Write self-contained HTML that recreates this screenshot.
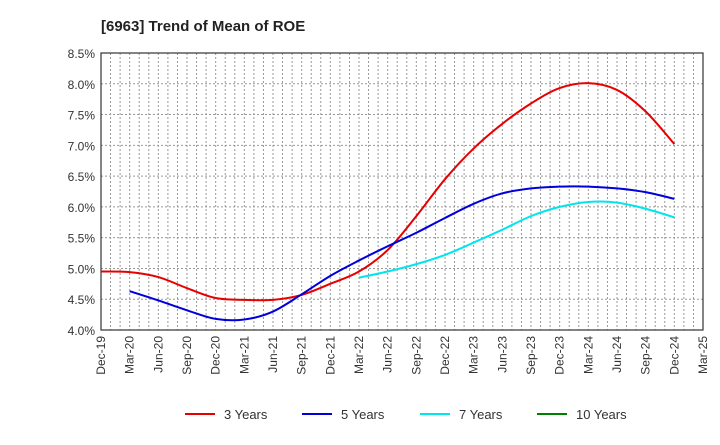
<!DOCTYPE html>
<html><head><meta charset="utf-8"><style>
body{margin:0;background:#fff;font-family:"Liberation Sans",Arial,sans-serif}
</style></head><body>
<svg id="c" width="720" height="440" xmlns="http://www.w3.org/2000/svg">
<text x="101" y="31" font-size="15" font-weight="bold" fill="#222">[6963]  Trend of Mean of ROE</text>
<g id="grid"></g><g id="axes"></g><g id="series"></g><g id="legend"></g>
</svg>
<script>
const xLabels=["Dec-19","Mar-20","Jun-20","Sep-20","Dec-20","Mar-21","Jun-21","Sep-21","Dec-21","Mar-22","Jun-22","Sep-22","Dec-22","Mar-23","Jun-23","Sep-23","Dec-23","Mar-24","Jun-24","Sep-24","Dec-24","Mar-25"];
const yTicks=[4.0,4.5,5.0,5.5,6.0,6.5,7.0,7.5,8.0,8.5];
const seriesNames=["3 Years","5 Years","7 Years","10 Years"];
const seriesColors=["#e60000","#0000dd","#00e5ee","#008000"];
const s3Start=0;
const s3=[4.95,4.94,4.86,4.68,4.52,4.49,4.49,4.57,4.75,4.95,5.3,5.85,6.45,6.95,7.35,7.68,7.93,8.01,7.9,7.55,7.02];
const s5Start=1;
const s5=[4.63,4.48,4.32,4.18,4.17,4.3,4.58,4.88,5.13,5.36,5.58,5.82,6.05,6.22,6.3,6.33,6.33,6.3,6.24,6.13];
const s7Start=9;
const s7=[4.85,4.95,5.07,5.22,5.42,5.63,5.85,6.0,6.08,6.07,5.97,5.83];
const s10Start=0;
const s10=[];
const L=101,R=703,T=53,B=330,NS="http://www.w3.org/2000/svg";
const x=i=>L+(R-L)*i/(xLabels.length-1);
const y=v=>B-(B-T)*(v-4)/4.5;
function mk(tag,attrs,parent){const e=document.createElementNS(NS,tag);for(const k in attrs)e.setAttribute(k,attrs[k]);document.getElementById(parent).appendChild(e);return e;}
for(let m=1;m<63;m++){const xx=L+(R-L)*m/63;
 const g=mk('line',{x1:xx,x2:xx,y1:T,y2:B,stroke:'#999','stroke-dasharray':'2,2','stroke-width':1},'grid');
 
 }
yTicks.forEach(v=>{const yy=y(v);
 const g=mk('line',{x1:L,x2:R,y1:yy,y2:yy,stroke:'#999','stroke-dasharray':'2,2','stroke-width':1},'grid');
 
 
 const t=mk('text',{x:L-6,y:yy+5,'text-anchor':'end','font-size':12,fill:'#333'},'axes');t.textContent=v.toFixed(1)+'%';
 
 });
xLabels.forEach((l,i)=>{const t=mk('text',{transform:`translate(${x(i)+4},${B+6}) rotate(-90)`,'text-anchor':'end','font-size':12,fill:'#333'},'axes');t.textContent=l;
 
 });
const fr=mk('rect',{x:L,y:T,width:R-L,height:B-T,fill:'none',stroke:'#333','stroke-width':1.2},'axes');


function path(pts){if(pts.length<2)return'';let d=`M${pts[0][0]},${pts[0][1]}`;
 for(let i=0;i<pts.length-1;i++){const p0=pts[i-1]||pts[i],p1=pts[i],p2=pts[i+1],p3=pts[i+2]||p2;
 d+=` C${p1[0]+(p2[0]-p0[0])/6},${p1[1]+(p2[1]-p0[1])/6} ${p2[0]-(p3[0]-p1[0])/6},${p2[1]-(p3[1]-p1[1])/6} ${p2[0]},${p2[1]}`;}return d;}
[[s3,s3Start],[s5,s5Start],[s7,s7Start],[s10,s10Start]].forEach(([s,st],k)=>{
 if(!s.length)return;
 const p=mk('path',{d:path(s.map((v,i)=>[x(st+i),y(v)])),fill:'none',stroke:seriesColors[k],'stroke-width':2},'series');
 
 });
const lx=[185,302,420,537];
seriesNames.forEach((n,k)=>{
 const l=mk('line',{x1:lx[k],x2:lx[k]+30,y1:414,y2:414,stroke:seriesColors[k],'stroke-width':2},'legend');
 
 
 const t=mk('text',{x:lx[k]+39,y:419,'font-size':13,fill:'#333'},'legend');t.textContent=n;
 
 });
</script>
</body></html>
